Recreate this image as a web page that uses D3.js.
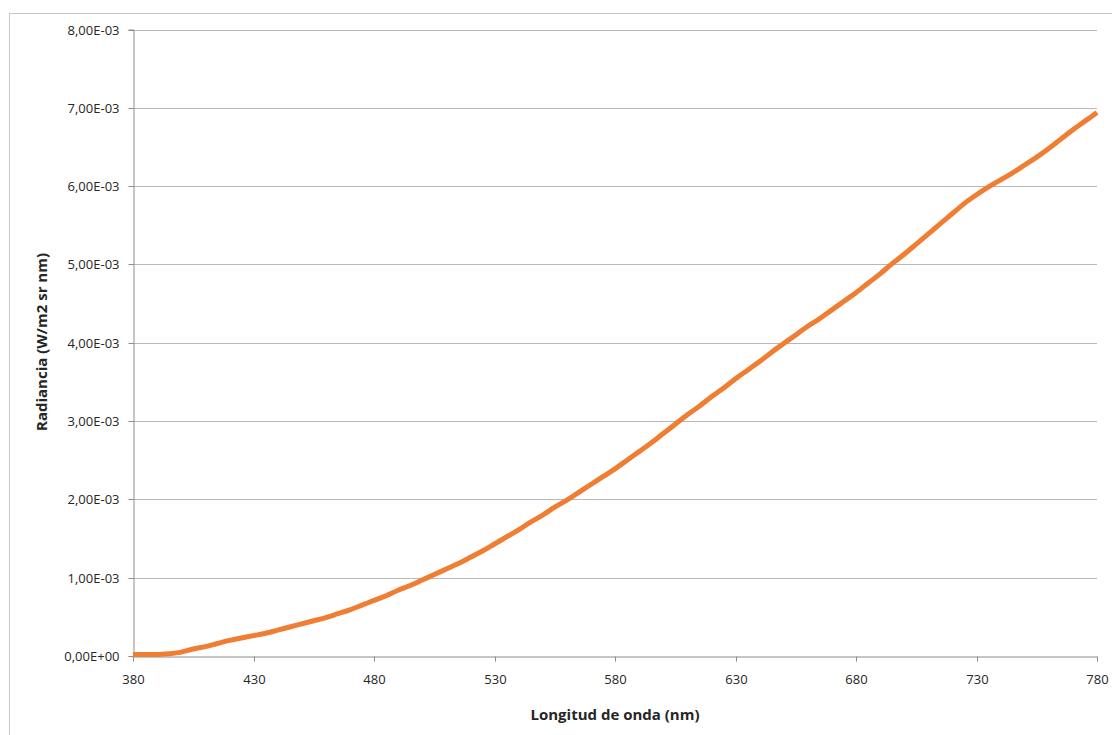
<!DOCTYPE html>
<html>
<head>
<meta charset="utf-8">
<script src="https://cdn.jsdelivr.net/npm/d3@7"></script>
<style>
  html, body { margin: 0; padding: 0; background: #fff; }
  svg { display: block; }
  text { font-family: "Open Sans", "Noto Sans", sans-serif; fill: #262626; }
</style>
</head>
<body>
<svg id="chart" width="1112" height="735"></svg>
<script>
const wavelengths = [380,385,390,395,400,405,410,415,420,425,430,435,440,445,450,455,460,465,470,475,480,485,490,495,500,505,510,515,520,525,530,535,540,545,550,555,560,565,570,575,580,585,590,595,600,605,610,615,620,625,630,635,640,645,650,655,660,665,670,675,680,685,690,695,700,705,710,715,720,725,730,735,740,745,750,755,760,765,770,775,780];
const radiance = [0.02,0.02,0.02,0.03,0.05,0.09,0.12,0.16,0.20,0.23,0.26,0.29,0.33,0.37,0.41,0.45,0.49,0.54,0.59,0.65,0.71,0.77,0.84,0.90,0.97,1.04,1.11,1.18,1.26,1.34,1.43,1.52,1.61,1.71,1.80,1.90,1.99,2.09,2.19,2.29,2.39,2.50,2.61,2.72,2.84,2.96,3.08,3.19,3.31,3.42,3.54,3.65,3.76,3.88,3.99,4.10,4.21,4.31,4.42,4.53,4.64,4.76,4.88,5.01,5.13,5.26,5.39,5.52,5.65,5.78,5.89,5.99,6.08,6.17,6.27,6.37,6.48,6.60,6.72,6.83,6.94].map(v => v * 1e-3);
const xTicks = [380,430,480,530,580,630,680,730,780];
const yTicks = [0,1e-3,2e-3,3e-3,4e-3,5e-3,6e-3,7e-3,8e-3];
const yTickLabels = ["0,00E+00","1,00E-03","2,00E-03","3,00E-03","4,00E-03","5,00E-03","6,00E-03","7,00E-03","8,00E-03"];
const xTitle = "Longitud de onda (nm)";
const yTitle = "Radiancia (W/m2 sr nm)";

const svg = d3.select("#chart");
const mLeft = 133, mRight = 1097, mTop = 29.5, mBottom = 656;

// outer chart border
svg.append("rect").attr("x", 9.5).attr("y", 13.5).attr("width", 1200).attr("height", 800)
  .attr("fill", "none").attr("stroke", "#c8c8c8").attr("stroke-width", 1);

const x = d3.scaleLinear().domain([380, 780]).range([mLeft, mRight]);
const y = d3.scaleLinear().domain([0, 8e-3]).range([mBottom, mTop]);

// gridlines
svg.append("g").selectAll("line").data(yTicks.slice(1)).join("line")
  .attr("x1", mLeft).attr("x2", mRight)
  .attr("y1", d => Math.round(y(d)) + 0.5).attr("y2", d => Math.round(y(d)) + 0.5)
  .attr("stroke", "#b8b8b8").attr("stroke-width", 1);

// y axis
const yAxis = d3.axisLeft(y).tickValues(yTicks).tickSize(5).tickPadding(9)
  .tickFormat((d, i) => yTickLabels[i]);
const gy = svg.append("g").attr("transform", `translate(${mLeft + 0.5},0)`).call(yAxis);
gy.selectAll(".tick").attr("transform", d => `translate(0,${Math.round(y(d)) + 0.5})`);
gy.select(".domain").attr("stroke", "#8c8c8c");
gy.selectAll(".tick line").attr("stroke", "#8c8c8c");
gy.selectAll(".tick text").style("font-size", "13px").attr("fill", "#262626")
  .style("font-family", "'Open Sans', sans-serif");

// x axis
const xAxis = d3.axisBottom(x).tickValues(xTicks).tickSize(5).tickPadding(13)
  .tickFormat(d3.format("d"));
const gx = svg.append("g").attr("transform", `translate(0,${mBottom + 0.5})`).call(xAxis);
gx.selectAll(".tick").attr("transform", d => `translate(${Math.round(x(d)) + 0.5},0)`);
gx.select(".domain").attr("stroke", "#8c8c8c");
gx.selectAll(".tick line").attr("stroke", "#8c8c8c");
gx.selectAll(".tick text").style("font-size", "13px").attr("fill", "#262626")
  .style("font-family", "'Open Sans', sans-serif");

// line
const data = wavelengths.map((w, i) => [w, radiance[i]]);
svg.append("path").datum(data)
  .attr("fill", "none").attr("stroke", "#EF7D32").attr("stroke-width", 5)
  .attr("stroke-linejoin", "round").attr("stroke-linecap", "butt")
  .attr("d", d3.line().x(d => x(d[0])).y(d => y(d[1])).curve(d3.curveMonotoneX));

// axis titles
svg.append("text").attr("x", 615).attr("y", 720).attr("text-anchor", "middle")
  .style("font-size", "15px").style("font-weight", "bold").text(xTitle);
svg.append("text").attr("transform", `translate(47,342) rotate(-90)`).attr("text-anchor", "middle")
  .style("font-size", "15px").style("font-weight", "bold").text(yTitle);
</script>
</body>
</html>
